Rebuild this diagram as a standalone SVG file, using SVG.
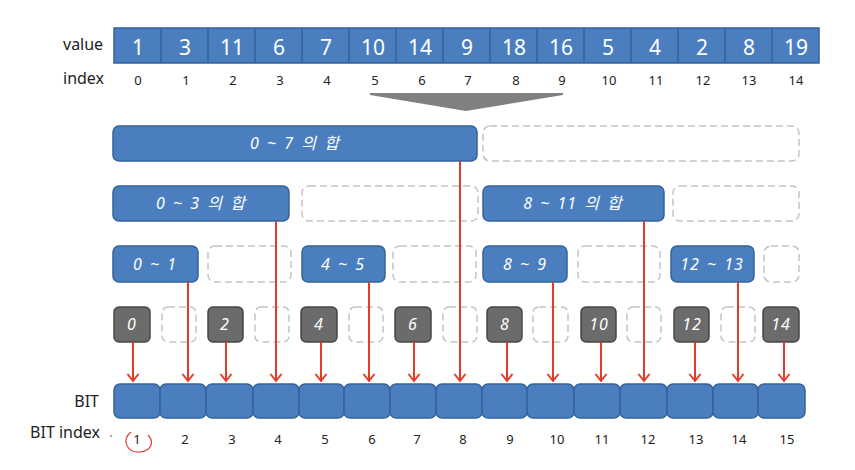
<svg xmlns="http://www.w3.org/2000/svg" width="855" height="470" viewBox="0 0 855 470">
<defs>
<style>
.cell{fill:#4a7ebf;stroke:#34639b;stroke-width:1.5}
.blue{fill:#4a7ebf;stroke:#34639b;stroke-width:1.5}
.gray{fill:#6b6b6b;stroke:#474747;stroke-width:1.5}
.dash{fill:none;stroke:#c4c4c4;stroke-width:1.5;stroke-dasharray:7 4}
.val{font-family:"Noto Sans","Liberation Sans",sans-serif;font-size:21px;fill:#ffffff;text-anchor:middle}
.idx{font-family:"Noto Sans","Liberation Sans",sans-serif;font-size:13px;fill:#222;text-anchor:middle}
.lbl{font-family:"Noto Sans","Liberation Sans",sans-serif;font-size:16px;fill:#222}
.in{font-family:"Noto Sans","Noto Sans CJK KR",sans-serif;font-size:16px;font-style:italic;fill:#ffffff;text-anchor:middle;letter-spacing:1px;word-spacing:2px}
.ar{stroke:#e33b2b;stroke-width:2;fill:none}
</style>
<marker id="ah" markerWidth="14" markerHeight="14" refX="11" refY="7" orient="auto" markerUnits="userSpaceOnUse" viewBox="0 0 14 14">
<path d="M4,1.5 L11,7 L4,12.5" fill="none" stroke="#e33b2b" stroke-width="2"/>
</marker>
</defs>
<rect width="855" height="470" fill="#ffffff"/>

<g id="labels">
<text class="lbl" x="63" y="50">value</text>
<text class="lbl" x="63" y="84">index</text>
<text class="lbl" x="99" y="407" text-anchor="end">BIT</text>
<text class="lbl" x="100" y="438" text-anchor="end">BIT index</text>
<circle cx="111" cy="436" r="1" fill="#888"/>
</g>

<g id="array">
<rect class="cell" x="114" y="28" width="705" height="35"/>
<g stroke="#34639b" stroke-width="1.5">
<line x1="161" y1="28" x2="161" y2="63"/><line x1="208" y1="28" x2="208" y2="63"/><line x1="255" y1="28" x2="255" y2="63"/>
<line x1="302" y1="28" x2="302" y2="63"/><line x1="349" y1="28" x2="349" y2="63"/><line x1="396" y1="28" x2="396" y2="63"/>
<line x1="443" y1="28" x2="443" y2="63"/><line x1="490" y1="28" x2="490" y2="63"/><line x1="537" y1="28" x2="537" y2="63"/>
<line x1="584" y1="28" x2="584" y2="63"/><line x1="631" y1="28" x2="631" y2="63"/><line x1="678" y1="28" x2="678" y2="63"/>
<line x1="725" y1="28" x2="725" y2="63"/><line x1="772" y1="28" x2="772" y2="63"/>
</g>
<text class="val" x="138" y="55">1</text><text class="val" x="185" y="55">3</text><text class="val" x="232" y="55">11</text>
<text class="val" x="279" y="55">6</text><text class="val" x="326" y="55">7</text><text class="val" x="373" y="55">10</text>
<text class="val" x="420" y="55">14</text><text class="val" x="467" y="55">9</text><text class="val" x="514" y="55">18</text>
<text class="val" x="561" y="55">16</text><text class="val" x="608" y="55">5</text><text class="val" x="655" y="55">4</text>
<text class="val" x="702" y="55">2</text><text class="val" x="749" y="55">8</text><text class="val" x="796" y="55">19</text>
<text class="idx" x="138" y="85">0</text><text class="idx" x="186" y="85">1</text><text class="idx" x="233" y="85">2</text>
<text class="idx" x="280" y="85">3</text><text class="idx" x="327" y="85">4</text><text class="idx" x="375" y="85">5</text>
<text class="idx" x="422" y="85">6</text><text class="idx" x="468" y="85">7</text><text class="idx" x="516" y="85">8</text>
<text class="idx" x="562" y="85">9</text><text class="idx" x="609" y="85">10</text><text class="idx" x="656" y="85">11</text>
<text class="idx" x="703" y="85">12</text><text class="idx" x="749" y="85">13</text><text class="idx" x="796" y="85">14</text>
</g>

<g id="down-arrow">
<polygon points="370,93 563,93 563,95 466,111 370,95" fill="#808080"/>
</g>

<g id="row1">
<rect class="blue" x="113" y="126" width="364" height="35" rx="6"/>
<text class="in" x="295" y="149">0 ~ 7 의 합</text>
<rect class="dash" x="483" y="126" width="316" height="35" rx="7"/>
</g>

<g id="row2">
<rect class="blue" x="113" y="186" width="176" height="35" rx="6"/>
<text class="in" x="201" y="209">0 ~ 3 의 합</text>
<rect class="dash" x="302" y="186" width="176" height="35" rx="7"/>
<rect class="blue" x="483" y="186" width="181" height="35" rx="6"/>
<text class="in" x="573" y="209">8 ~ 11 의 합</text>
<rect class="dash" x="673" y="186" width="126" height="35" rx="7"/>
</g>

<g id="row3">
<rect class="blue" x="113" y="246" width="85" height="36" rx="6"/>
<text class="in" x="155" y="270">0 ~ 1</text>
<rect class="dash" x="208" y="246" width="83" height="36" rx="7"/>
<rect class="blue" x="302" y="246" width="83" height="36" rx="6"/>
<text class="in" x="343" y="270">4 ~ 5</text>
<rect class="dash" x="393" y="246" width="83" height="36" rx="7"/>
<rect class="blue" x="483" y="246" width="84" height="36" rx="6"/>
<text class="in" x="525" y="270">8 ~ 9</text>
<rect class="dash" x="578" y="246" width="82" height="36" rx="7"/>
<rect class="blue" x="671" y="246" width="83" height="36" rx="6"/>
<text class="in" x="712" y="270">12 ~ 13</text>
<rect class="dash" x="764" y="246" width="35" height="36" rx="7"/>
</g>

<g id="row4">
<rect class="gray" x="114" y="307" width="36" height="35" rx="5"/><text class="in" x="132" y="330">0</text>
<rect class="dash" x="162" y="307" width="34" height="35" rx="6"/>
<rect class="gray" x="208" y="307" width="35" height="35" rx="5"/><text class="in" x="225" y="330">2</text>
<rect class="dash" x="255" y="307" width="34" height="35" rx="6"/>
<rect class="gray" x="301" y="307" width="36" height="35" rx="5"/><text class="in" x="319" y="330">4</text>
<rect class="dash" x="349" y="307" width="34" height="35" rx="6"/>
<rect class="gray" x="395" y="307" width="36" height="35" rx="5"/><text class="in" x="413" y="330">6</text>
<rect class="dash" x="443" y="307" width="34" height="35" rx="6"/>
<rect class="gray" x="487" y="307" width="35" height="35" rx="5"/><text class="in" x="505" y="330">8</text>
<rect class="dash" x="533" y="307" width="35" height="35" rx="6"/>
<rect class="gray" x="581" y="307" width="35" height="35" rx="5"/><text class="in" x="599" y="330">10</text>
<rect class="dash" x="627" y="307" width="34" height="35" rx="6"/>
<rect class="gray" x="674" y="307" width="35" height="35" rx="5"/><text class="in" x="692" y="330">12</text>
<rect class="dash" x="721" y="307" width="34" height="35" rx="6"/>
<rect class="gray" x="763" y="307" width="36" height="35" rx="5"/><text class="in" x="781" y="330">14</text>
</g>

<g id="connectors">
<line class="ar" x1="133" y1="342" x2="133" y2="381" marker-end="url(#ah)"/>
<line class="ar" x1="188" y1="282" x2="188" y2="381" marker-end="url(#ah)"/>
<line class="ar" x1="226" y1="342" x2="226" y2="381" marker-end="url(#ah)"/>
<line class="ar" x1="276" y1="221" x2="276" y2="381" marker-end="url(#ah)"/>
<line class="ar" x1="321" y1="342" x2="321" y2="381" marker-end="url(#ah)"/>
<line class="ar" x1="369" y1="282" x2="369" y2="381" marker-end="url(#ah)"/>
<line class="ar" x1="414" y1="342" x2="414" y2="381" marker-end="url(#ah)"/>
<line class="ar" x1="460" y1="161" x2="460" y2="381" marker-end="url(#ah)"/>
<line class="ar" x1="507" y1="342" x2="507" y2="381" marker-end="url(#ah)"/>
<line class="ar" x1="553" y1="282" x2="553" y2="381" marker-end="url(#ah)"/>
<line class="ar" x1="601" y1="342" x2="601" y2="381" marker-end="url(#ah)"/>
<line class="ar" x1="644" y1="221" x2="644" y2="381" marker-end="url(#ah)"/>
<line class="ar" x1="695" y1="342" x2="695" y2="381" marker-end="url(#ah)"/>
<line class="ar" x1="738" y1="282" x2="738" y2="381" marker-end="url(#ah)"/>
<line class="ar" x1="784" y1="342" x2="784" y2="381" marker-end="url(#ah)"/>
</g>

<g id="bit">
<rect class="cell" x="114" y="384" width="46" height="34" rx="6"/>
<rect class="cell" x="160" y="384" width="46" height="34" rx="6"/>
<rect class="cell" x="206" y="384" width="47" height="34" rx="6"/>
<rect class="cell" x="253" y="384" width="46" height="34" rx="6"/>
<rect class="cell" x="299" y="384" width="45" height="34" rx="6"/>
<rect class="cell" x="344" y="384" width="46" height="34" rx="6"/>
<rect class="cell" x="390" y="384" width="46" height="34" rx="6"/>
<rect class="cell" x="436" y="384" width="46" height="34" rx="6"/>
<rect class="cell" x="482" y="384" width="45" height="34" rx="6"/>
<rect class="cell" x="527" y="384" width="47" height="34" rx="6"/>
<rect class="cell" x="574" y="384" width="46" height="34" rx="6"/>
<rect class="cell" x="620" y="384" width="47" height="34" rx="6"/>
<rect class="cell" x="667" y="384" width="46" height="34" rx="6"/>
<rect class="cell" x="713" y="384" width="45" height="34" rx="6"/>
<rect class="cell" x="758" y="384" width="47" height="34" rx="6"/>
<text class="idx" x="137" y="444">1</text><text class="idx" x="185" y="444">2</text><text class="idx" x="232" y="444">3</text>
<text class="idx" x="278" y="444">4</text><text class="idx" x="325" y="444">5</text><text class="idx" x="372" y="444">6</text>
<text class="idx" x="417" y="444">7</text><text class="idx" x="463" y="444">8</text><text class="idx" x="510" y="444">9</text>
<text class="idx" x="557" y="444">10</text><text class="idx" x="602" y="444">11</text><text class="idx" x="648" y="444">12</text>
<text class="idx" x="696" y="444">13</text><text class="idx" x="739" y="444">14</text><text class="idx" x="787" y="444">15</text>
<path d="M131,432 C121,440 127,453 140,452 C151,451 155,442 148,435" fill="none" stroke="#e33b2b" stroke-width="1.2"/>
</g>
</svg>
